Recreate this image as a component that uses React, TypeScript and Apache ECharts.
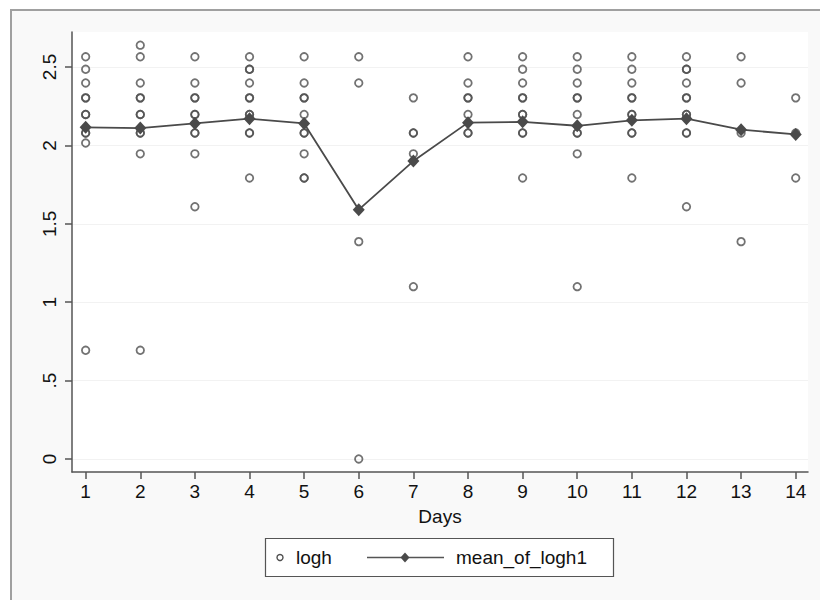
import React, { useEffect, useRef } from "react";
import * as echarts from "echarts";

const days = [1, 2, 3, 4, 5, 6, 7, 8, 9, 10, 11, 12, 13, 14];

const loghDay1 = [2.565, 2.485, 2.398, 2.303, 2.303, 2.197, 2.197, 2.079, 2.079, 2.015, 0.693];
const loghDay2 = [2.639, 2.565, 2.398, 2.303, 2.303, 2.197, 2.197, 2.079, 2.079, 1.946, 0.693];
const loghDay3 = [2.565, 2.398, 2.303, 2.303, 2.197, 2.197, 2.079, 2.079, 1.946, 1.609];
const loghDay4 = [2.565, 2.485, 2.485, 2.398, 2.303, 2.303, 2.197, 2.197, 2.079, 2.079, 1.792];
const loghDay5 = [2.565, 2.398, 2.303, 2.303, 2.197, 2.079, 2.079, 1.946, 1.792, 1.792];
const loghDay6 = [2.565, 2.398, 1.386, 0];
const loghDay7 = [2.303, 2.079, 2.079, 1.946, 1.099];
const loghDay8 = [2.565, 2.398, 2.303, 2.303, 2.197, 2.079, 2.079];
const loghDay9 = [2.565, 2.485, 2.398, 2.303, 2.303, 2.197, 2.197, 2.079, 2.079, 1.792];
const loghDay10 = [2.565, 2.485, 2.398, 2.303, 2.303, 2.197, 2.079, 2.079, 1.946, 1.099];
const loghDay11 = [2.565, 2.485, 2.398, 2.303, 2.303, 2.197, 2.197, 2.079, 2.079, 1.792];
const loghDay12 = [2.565, 2.485, 2.485, 2.398, 2.303, 2.303, 2.197, 2.197, 2.079, 2.079, 1.609];
const loghDay13 = [2.565, 2.398, 2.079, 1.386];
const loghDay14 = [2.303, 2.079, 1.792];

const loghByDay = [
  loghDay1, loghDay2, loghDay3, loghDay4, loghDay5, loghDay6, loghDay7,
  loghDay8, loghDay9, loghDay10, loghDay11, loghDay12, loghDay13, loghDay14,
];

const meanOfLogh1 = [2.115, 2.11, 2.14, 2.17, 2.14, 1.59, 1.9, 2.145, 2.15, 2.125, 2.16, 2.17, 2.1, 2.07];

const xTickValues = [1, 2, 3, 4, 5, 6, 7, 8, 9, 10, 11, 12, 13, 14];
const yTickValues = [0, 0.5, 1, 1.5, 2, 2.5];

const FONT = "'Liberation Sans', Arial, Helvetica, sans-serif";
const MARK = "#4f4f4f";

export default function App() {
  const ref = useRef<HTMLDivElement>(null);

  useEffect(() => {
    if (!ref.current) return;
    const chart = echarts.init(ref.current, null, { renderer: "svg" });

    const scatterData: number[][] = [];
    loghByDay.forEach((vals, i) => {
      vals.forEach((v) => scatterData.push([days[i], v]));
    });
    const meanData = days.map((d, i) => [d, meanOfLogh1[i]]);

    const ly = 557.5;

    chart.setOption({
      animation: false,
      backgroundColor: "transparent",
      grid: {
        left: 72,
        right: 12,
        top: 32,
        height: 440,
        show: true,
        backgroundColor: "#ffffff",
        borderWidth: 0,
      },
      xAxis: {
        type: "value",
        min: 0.75,
        max: 14.225,
        name: "Days",
        nameLocation: "middle",
        nameGap: 35,
        nameTextStyle: { fontFamily: FONT, fontSize: 19, color: "#111" },
        axisLine: { show: true, onZero: false, lineStyle: { color: "#555", width: 1.5 } },
        axisTick: { show: true, length: 7, customValues: xTickValues, lineStyle: { color: "#555", width: 1.5 } },
        axisLabel: {
          customValues: xTickValues,
          fontFamily: FONT,
          fontSize: 19,
          color: "#111",
          margin: 10,
        },
        splitLine: { show: false },
      },
      yAxis: {
        type: "value",
        min: -0.083,
        max: 2.723,
        axisLine: { show: true, onZero: false, lineStyle: { color: "#555", width: 1.5 } },
        axisTick: { show: true, length: 7, customValues: yTickValues, lineStyle: { color: "#555", width: 1.5 } },
        axisLabel: {
          customValues: yTickValues,
          rotate: 90,
          fontFamily: FONT,
          fontSize: 19,
          color: "#111",
          margin: 13,
          formatter: (v: number) => (v === 0 ? "0" : String(v).replace(/^0\./, ".")),
        },
        splitLine: { show: true, lineStyle: { color: "#f2f2f2", width: 1 } },
      },
      series: [
        {
          name: "logh",
          type: "scatter",
          data: scatterData,
          symbol: "circle",
          symbolSize: 7.5,
          itemStyle: { color: "rgba(255,255,255,0)", borderColor: MARK, borderWidth: 1.8 },
          emphasis: { disabled: true },
          z: 2,
        },
        {
          name: "mean_of_logh1",
          type: "line",
          data: meanData,
          symbol: "diamond",
          symbolSize: [12, 13],
          lineStyle: { color: "#4a4a4a", width: 1.8 },
          itemStyle: { color: "#4a4a4a" },
          emphasis: { disabled: true },
          z: 3,
        },
      ],
      graphic: [
        {
          type: "rect",
          shape: { x: 265.5, y: 538.5, width: 348, height: 38 },
          style: { fill: "#ffffff", stroke: "#555", lineWidth: 1.2 },
        },
        {
          type: "circle",
          shape: { cx: 280, cy: ly, r: 3 },
          style: { fill: "none", stroke: MARK, lineWidth: 1.4 },
        },
        {
          type: "text",
          x: 296,
          y: ly,
          style: { text: "logh", font: `19px ${FONT}`, fill: "#111", verticalAlign: "middle" },
        },
        {
          type: "line",
          shape: { x1: 367, y1: ly, x2: 444, y2: ly },
          style: { stroke: "#555", lineWidth: 1.4 },
        },
        {
          type: "polygon",
          shape: { points: [[405, ly - 5], [409.5, ly], [405, ly + 5], [400.5, ly]] },
          style: { fill: "#4a4a4a" },
        },
        {
          type: "text",
          x: 456,
          y: ly,
          style: { text: "mean_of_logh1", font: `19px ${FONT}`, fill: "#111", verticalAlign: "middle" },
        },
      ],
    });

    return () => chart.dispose();
  }, []);

  return (
    <div style={{ position: "fixed", left: 0, top: 0, width: 820, height: 600, background: "#ffffff", overflow: "hidden" }}>
      <div
        style={{
          position: "absolute",
          left: 10,
          top: 9,
          width: 900,
          height: 700,
          background: "#f9f9f9",
          borderLeft: "2px solid #a0a0a0",
          borderTop: "2px solid #a0a0a0",
        }}
      />
      <div ref={ref} style={{ position: "absolute", left: 0, top: 0, width: 820, height: 600 }} />
    </div>
  );
}
